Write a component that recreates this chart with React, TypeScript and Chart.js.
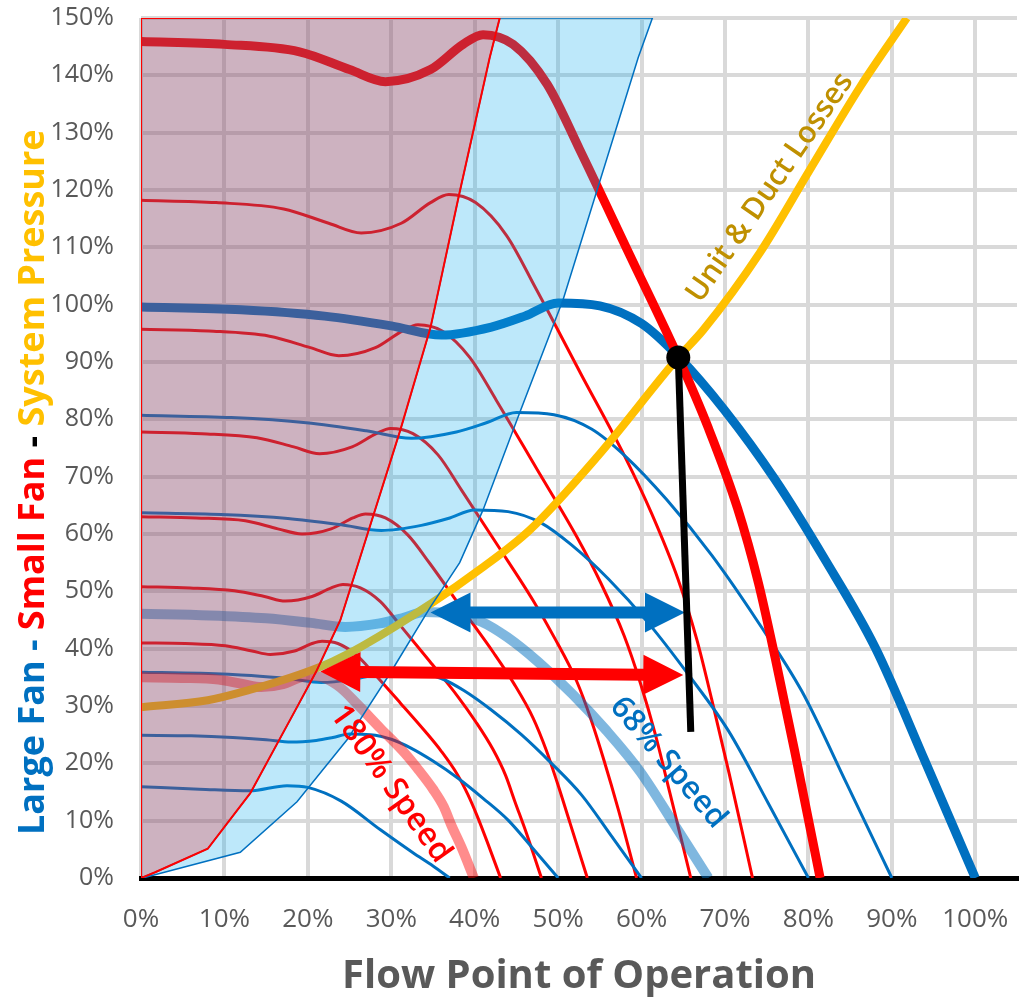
import React, { useEffect, useRef } from 'react';
import { Chart, registerables } from 'chart.js';

Chart.register(...registerables);

// ---------- axes ----------
const xTickValues = [0, 10, 20, 30, 40, 50, 60, 70, 80, 90, 100];
const yTickValues = [0, 10, 20, 30, 40, 50, 60, 70, 80, 90, 100, 110, 120, 130, 140, 150];
const xAxisTitle = 'Flow Point of Operation';
const yTitleParts = ['Large Fan -', ' Small Fan', ' - ', 'System Pressure'];
const yTitleColors = ['#0070C0', '#FF0000', '#000000', '#FFC000'];

// ---------- small fan (red) curves: flow %, pressure % ----------
const smallFan146X = [0, 10, 19, 25, 29.3, 34.7, 38.6, 41, 44.6, 48.7, 52.6, 58.6, 64.4, 68, 71.5, 74, 76, 78.3, 81.4];
const smallFan146Y = [145.9, 145.4, 144.1, 141, 138.9, 141, 145.4, 147.1, 145.4, 138.4, 127, 108.6, 90.8, 78.5, 64.5, 51.5, 38.5, 22.5, 0];
const smallFan118X = [0, 9, 17.1, 22.5, 26.4, 31.2, 34.7, 36.9, 40.1, 43.8, 47.3, 52.7, 58, 61.2, 64.35, 66.6, 68.4, 70.5, 73.3];
const smallFan118Y = [118.2, 117.8, 116.7, 114.2, 112.5, 114.2, 117.8, 119.2, 117.8, 112.1, 102.9, 88.0, 73.5, 63.6, 52.2, 41.7, 31.2, 18.2, 0];
const smallFan96X = [0, 8.1, 15.4, 20.3, 23.7, 28.1, 31.3, 33.2, 36.1, 39.4, 42.6, 47.5, 52.2, 55.1, 57.9, 59.9, 61.6, 63.4, 65.9];
const smallFan96Y = [95.7, 95.4, 94.5, 92.5, 91.1, 92.5, 95.4, 96.5, 95.4, 90.8, 83.3, 71.2, 59.6, 51.5, 42.3, 33.8, 25.3, 14.8, 0];
const smallFan78X = [0, 7.3, 13.9, 18.3, 21.4, 25.3, 28.2, 29.9, 32.6, 35.6, 38.4, 42.8, 47, 49.6, 52.2, 54.0, 55.5, 57.2, 59.4];
const smallFan78Y = [77.8, 77.5, 76.8, 75.2, 74.0, 75.2, 77.5, 78.4, 77.5, 73.8, 67.7, 57.9, 48.4, 41.8, 34.4, 27.4, 20.5, 12.0, 0];
const smallFan63X = [0, 6.6, 12.5, 16.4, 19.3, 22.8, 25.4, 26.9, 29.3, 32, 34.6, 38.5, 42.3, 44.7, 47.0, 48.6, 49.9, 51.4, 53.5];
const smallFan63Y = [63.0, 62.8, 62.3, 60.9, 60.0, 60.9, 62.8, 63.5, 62.8, 59.8, 54.9, 46.9, 39.2, 33.9, 27.9, 22.2, 16.6, 9.7, 0];
const smallFan51X = [0, 5.9, 11.2, 14.8, 17.3, 20.5, 22.8, 24.2, 26.3, 28.7, 31, 34.6, 38, 40.1, 42.2, 43.7, 44.8, 46.2, 48];
const smallFan51Y = [50.8, 50.6, 50.1, 49.1, 48.3, 49.1, 50.6, 51.2, 50.6, 48.2, 44.2, 37.8, 31.6, 27.3, 22.4, 17.9, 13.4, 7.8, 0];
const smallFan41X = [0, 5.3, 10.1, 13.3, 15.5, 18.4, 20.5, 21.7, 23.6, 25.8, 27.9, 31.1, 34.1, 36.0, 37.9, 39.2, 40.3, 41.5, 43.1];
const smallFan41Y = [41.0, 40.9, 40.5, 39.6, 39.0, 39.6, 40.9, 41.3, 40.9, 38.9, 35.7, 30.5, 25.5, 22.1, 18.1, 14.5, 10.8, 6.3, 0];
const speed180X = [0, 4.9, 9.3, 12.3, 14.4, 17, 18.9, 20.1, 21.9, 23.9, 25.8, 28.7, 31.6, 33.3, 35.0, 36.3, 37.2, 38.4, 39.9];
const speed180Y = [35.0, 34.9, 34.6, 33.8, 33.3, 33.8, 34.9, 35.3, 34.9, 33.2, 30.5, 26.1, 21.8, 18.8, 15.5, 12.4, 9.2, 5.4, 0];

// ---------- large fan (blue) curves ----------
const largeFan100X = [0, 12, 22, 30, 36, 42, 46, 50, 55, 60, 64.5, 70, 76, 82, 88, 94, 100];
const largeFan100Y = [99.6, 99.1, 98.0, 96.3, 94.7, 96.1, 98.0, 100.3, 99.8, 96.7, 90.8, 81.5, 69.5, 55.5, 40.2, 20.3, 0];
const largeFan81X = [0, 10.8, 19.8, 27, 32.4, 37.8, 41.4, 45, 49.5, 54, 58.1, 63, 68.4, 73.8, 79.2, 84.6, 90];
const largeFan81Y = [80.7, 80.3, 79.4, 78.0, 76.7, 77.8, 79.4, 81.2, 80.8, 78.3, 73.5, 66.0, 56.3, 45.0, 32.6, 16.4, 0];
const largeFan64X = [0, 9.6, 17.6, 24, 28.8, 33.6, 36.8, 40, 44, 48, 51.6, 56, 60.8, 65.6, 70.4, 75.2, 80];
const largeFan64Y = [63.7, 63.4, 62.7, 61.6, 60.6, 61.5, 62.7, 64.2, 63.9, 61.9, 58.1, 52.2, 44.5, 35.5, 25.7, 13.0, 0];
const speed68X = [0, 8.2, 15, 20.4, 24.5, 28.6, 31.3, 34, 37.4, 40.8, 43.9, 47.6, 51.7, 55.8, 59.8, 63.9, 68];
const speed68Y = [46.1, 45.8, 45.3, 44.5, 43.8, 44.4, 45.3, 46.4, 46.1, 44.7, 42.0, 37.7, 32.1, 25.7, 18.6, 9.4, 0];
const largeFan36X = [0, 7.2, 13.2, 18, 21.6, 25.2, 27.6, 30, 33, 36, 38.7, 42, 45.6, 49.2, 52.8, 56.4, 60];
const largeFan36Y = [35.9, 35.7, 35.3, 34.7, 34.1, 34.6, 35.3, 36.1, 35.9, 34.8, 32.7, 29.3, 25.0, 20.0, 14.5, 7.3, 0];
const largeFan25X = [0, 6, 11, 15, 18, 21, 23, 25, 27.5, 30, 32.3, 35, 38, 41, 44, 47, 50];
const largeFan25Y = [24.9, 24.8, 24.5, 24.1, 23.7, 24.0, 24.5, 25.1, 25.0, 24.2, 22.7, 20.4, 17.4, 13.9, 10.1, 5.1, 0];
const largeFan16X = [0, 7, 13, 17.5, 20, 24, 28.7, 32.6, 35, 37];
const largeFan16Y = [15.9, 15.5, 15.2, 16.1, 15.8, 13.4, 8.4, 4.4, 2.1, 0];

// ---------- system curve ----------
const systemX = [0, 8, 13, 19, 23, 26.6, 34.7, 40.6, 46.6, 54.7, 64.4, 67.4, 74.2, 80.2, 86.2, 91.8];
const systemY = [29.8, 31, 32.8, 35.5, 37.8, 40.5, 47.8, 53.8, 60.7, 73.5, 90.8, 95.6, 109.1, 123.6, 138, 150];

// ---------- surge / stall regions (closed outlines) ----------
const smallRegionX = [0, 1.7, 8, 13.1, 18.7, 21, 23.9, 27.8, 31.1, 34.7, 38.1, 41.8, 43, 0, 0];
const smallRegionY = [0, 1, 5.1, 14.8, 29.8, 36, 45, 63, 78.2, 96, 119, 143.1, 150, 150, 0];
const largeRegionX = [0.2, 11.9, 18.7, 24.7, 29.9, 34.7, 38.2, 41, 45.4, 50.6, 59.6, 61.3, 43, 41.8, 38.1, 34.7, 31.1, 27.8, 23.9, 21, 18.7, 13.1, 8, 1.7, 0, 0.2];
const largeRegionY = [0, 4.5, 13.3, 24.1, 35.8, 47.3, 55, 64.2, 81.2, 100.9, 143.1, 150, 150, 143.1, 119, 96, 78.2, 63, 45, 36, 29.8, 14.8, 5.1, 1, 0, 0];

// ---------- operating point & drop line ----------
const opPointX = [64.4];
const opPointY = [90.8];
const dropX = [64.4, 65.9];
const dropY = [90.8, 25.5];

// ---------- double arrows ----------
const arrowStartX = [34.7, 21.5];
const arrowStartY = [46.3, 36.0];
const arrowEndX = [65.2, 65.0];
const arrowEndY = [46.3, 35.4];
const arrowColors = ['#0070C0', '#FF0000'];

// ---------- in-plot labels ----------
const labelTexts = ['Unit & Duct Losses', '180% Speed', '68% Speed'];
const labelX = [75.4, 29.9, 63.2];
const labelY = [120.4, 16.4, 20.1];
const labelAngle = [-55.5, 54.5, 49.5];
const labelColors = ['#BF9000', '#FF0000', '#0070C0'];
const labelSizes = [30, 32, 31];

const FONT = '"Open Sans", "Noto Sans", sans-serif';

const pts = (xs: number[], ys: number[]) => xs.map((x, i) => ({ x, y: ys[i] }));

const curve = (label: string, xs: number[], ys: number[], color: string, width: number, order: number) => ({
  label,
  data: pts(xs, ys),
  borderColor: color,
  backgroundColor: color,
  borderWidth: width,
  pointRadius: 0,
  fill: false,
  cubicInterpolationMode: 'monotone',
  borderCapStyle: 'butt',
  order,
});

function drawDoubleArrow(ctx: CanvasRenderingContext2D, x1: number, y1: number, x2: number, y2: number, color: string) {
  const shaft = 12, headLen = 40, headHalf = 20;
  const dx = x2 - x1, dy = y2 - y1;
  const len = Math.hypot(dx, dy);
  const ux = dx / len, uy = dy / len;
  const nx = -uy, ny = ux;
  const b1x = x1 + ux * headLen, b1y = y1 + uy * headLen;
  const b2x = x2 - ux * headLen, b2y = y2 - uy * headLen;
  ctx.save();
  ctx.fillStyle = color;
  ctx.beginPath();
  ctx.moveTo(x1, y1);
  ctx.lineTo(b1x + nx * headHalf, b1y + ny * headHalf);
  ctx.lineTo(b1x + nx * shaft / 2, b1y + ny * shaft / 2);
  ctx.lineTo(b2x + nx * shaft / 2, b2y + ny * shaft / 2);
  ctx.lineTo(b2x + nx * headHalf, b2y + ny * headHalf);
  ctx.lineTo(x2, y2);
  ctx.lineTo(b2x - nx * headHalf, b2y - ny * headHalf);
  ctx.lineTo(b2x - nx * shaft / 2, b2y - ny * shaft / 2);
  ctx.lineTo(b1x - nx * shaft / 2, b1y - ny * shaft / 2);
  ctx.lineTo(b1x - nx * headHalf, b1y - ny * headHalf);
  ctx.closePath();
  ctx.fill();
  ctx.restore();
}

const overlayPlugin = {
  id: 'overlay',
  beforeDatasetDraw(chart: any, args: any) {
    const ds = chart.data.datasets[args.index];
    if (ds.label !== 'drop') return;
    const ctx = chart.ctx;
    const xs = chart.scales.x, ys = chart.scales.y;
    const a = chart.chartArea;
    ctx.save();
    ctx.beginPath();
    ctx.rect(a.left, a.top, a.right - a.left, a.bottom - a.top);
    ctx.clip();
    for (let i = 0; i < arrowStartX.length; i++) {
      drawDoubleArrow(
        ctx,
        xs.getPixelForValue(arrowStartX[i]), ys.getPixelForValue(arrowStartY[i]),
        xs.getPixelForValue(arrowEndX[i]), ys.getPixelForValue(arrowEndY[i]),
        arrowColors[i]
      );
    }
    ctx.restore();
  },
  afterDraw(chart: any) {
    const ctx = chart.ctx;
    const xs = chart.scales.x, ys = chart.scales.y;
    const a = chart.chartArea;
    for (let i = 0; i < labelTexts.length; i++) {
      ctx.save();
      ctx.translate(xs.getPixelForValue(labelX[i]), ys.getPixelForValue(labelY[i]));
      ctx.rotate((labelAngle[i] * Math.PI) / 180);
      ctx.font = `600 ${labelSizes[i]}px ${FONT}`;
      ctx.fillStyle = labelColors[i];
      ctx.textAlign = 'center';
      ctx.textBaseline = 'middle';
      ctx.fillText(labelTexts[i], 0, 0);
      ctx.restore();
    }
    // x axis title
    ctx.save();
    ctx.font = `bold 40px ${FONT}`;
    ctx.fillStyle = '#595959';
    ctx.textAlign = 'center';
    ctx.textBaseline = 'alphabetic';
    ctx.fillText(xAxisTitle, 579, a.bottom + 110);
    ctx.restore();
    // y axis title (multi-coloured, rotated)
    ctx.save();
    ctx.font = `bold 36px ${FONT}`;
    ctx.textBaseline = 'alphabetic';
    ctx.textAlign = 'left';
    ctx.translate(44, a.bottom - 43);
    ctx.rotate(-Math.PI / 2);
    let off = 0;
    for (let i = 0; i < yTitleParts.length; i++) {
      ctx.fillStyle = yTitleColors[i];
      ctx.fillText(yTitleParts[i], off, 0);
      off += ctx.measureText(yTitleParts[i]).width;
    }
    ctx.restore();
  },
};

const zeroPad = (s: any) => {
  s.paddingTop = 0;
  s.paddingBottom = 0;
  s.paddingLeft = 0;
  s.paddingRight = 0;
};

export default function App() {
  const ref = useRef<HTMLCanvasElement>(null);

  useEffect(() => {
    if (!ref.current) return;
    Chart.defaults.font.family = FONT;
    const datasets: any[] = [
      curve('lf81', largeFan81X, largeFan81Y, '#0070C0', 3, 20),
      curve('lf64', largeFan64X, largeFan64Y, '#0070C0', 3, 20),
      curve('lf36', largeFan36X, largeFan36Y, '#0070C0', 3, 20),
      curve('lf25', largeFan25X, largeFan25Y, '#0070C0', 3, 20),
      curve('lf16', largeFan16X, largeFan16Y, '#0070C0', 3, 20),
      curve('sf118', smallFan118X, smallFan118Y, '#FF0000', 3, 20),
      curve('sf96', smallFan96X, smallFan96Y, '#FF0000', 3, 20),
      curve('sf78', smallFan78X, smallFan78Y, '#FF0000', 3, 20),
      curve('sf63', smallFan63X, smallFan63Y, '#FF0000', 3, 20),
      curve('sf51', smallFan51X, smallFan51Y, '#FF0000', 3, 20),
      curve('sf41', smallFan41X, smallFan41Y, '#FF0000', 3, 20),
      curve('s68', speed68X, speed68Y, 'rgba(0,112,192,0.5)', 10, 19),
      curve('s180', speed180X, speed180Y, 'rgba(255,0,0,0.45)', 10, 19),
      curve('lf100', largeFan100X, largeFan100Y, '#0070C0', 9, 18),
      curve('sf146', smallFan146X, smallFan146Y, '#FF0000', 9, 17),
      curve('system', systemX, systemY, '#FFC000', 8, 16),
      {
        label: 'largeRegion',
        data: pts(largeRegionX, largeRegionY),
        borderColor: '#0070C0',
        borderWidth: 1.5,
        backgroundColor: 'rgba(10,170,235,0.27)',
        fill: 'shape',
        tension: 0,
        pointRadius: 0,
        order: 5,
      },
      {
        label: 'smallRegion',
        data: pts(smallRegionX, smallRegionY),
        borderColor: '#FF0000',
        borderWidth: 2,
        backgroundColor: 'rgba(138,76,109,0.43)',
        fill: 'shape',
        tension: 0,
        pointRadius: 0,
        order: 4,
      },
      {
        label: 'drop',
        data: pts(dropX, dropY),
        borderColor: '#000000',
        borderWidth: 7,
        pointRadius: 0,
        fill: false,
        tension: 0,
        order: 2,
      },
      {
        label: 'op',
        data: pts(opPointX, opPointY),
        showLine: false,
        pointRadius: 12,
        pointBackgroundColor: '#000000',
        pointBorderWidth: 0,
        borderColor: '#000000',
        order: 1,
      },
    ];

    const chart = new Chart(ref.current, {
      type: 'line',
      data: { datasets },
      options: {
        animation: false,
        responsive: false,
        devicePixelRatio: 1,
        events: [],
        layout: { autoPadding: false, padding: { left: 0, right: 4, top: 18, bottom: 0 } },
        plugins: { legend: { display: false }, tooltip: { enabled: false }, title: { display: false } },
        scales: {
          x: {
            type: 'linear',
            min: 0,
            max: 105,
            afterBuildTicks: (s: any) => {
              s.ticks = xTickValues.map((v) => ({ value: v }));
            },
            afterFit: (s: any) => {
              s.height = 120;
              zeroPad(s);
            },
            ticks: {
              callback: (v: any) => `${v}%`,
              color: '#595959',
              font: { size: 26, family: FONT },
              padding: 26,
              maxRotation: 0,
              autoSkip: false,
            },
            grid: { color: '#D9D9D9', lineWidth: 4, drawTicks: false },
            border: { display: true, color: '#000000', width: 5 },
          },
          y: {
            type: 'linear',
            min: 0,
            max: 150,
            afterBuildTicks: (s: any) => {
              s.ticks = yTickValues.map((v) => ({ value: v }));
            },
            afterFit: (s: any) => {
              s.width = 141;
              zeroPad(s);
            },
            ticks: {
              callback: (v: any) => `${v}%`,
              color: '#595959',
              font: { size: 25, family: FONT },
              padding: 27,
              autoSkip: false,
            },
            grid: { color: '#D9D9D9', lineWidth: 4, drawTicks: false },
            border: { display: false },
          },
        },
      } as any,
      plugins: [overlayPlugin],
    } as any);
    return () => chart.destroy();
  }, []);

  return (
    <div style={{ position: 'absolute', left: 0, top: 0, width: 1021, height: 998, background: '#ffffff' }}>
      <canvas ref={ref} width={1021} height={998} style={{ display: 'block', width: 1021, height: 998 }} />
    </div>
  );
}
